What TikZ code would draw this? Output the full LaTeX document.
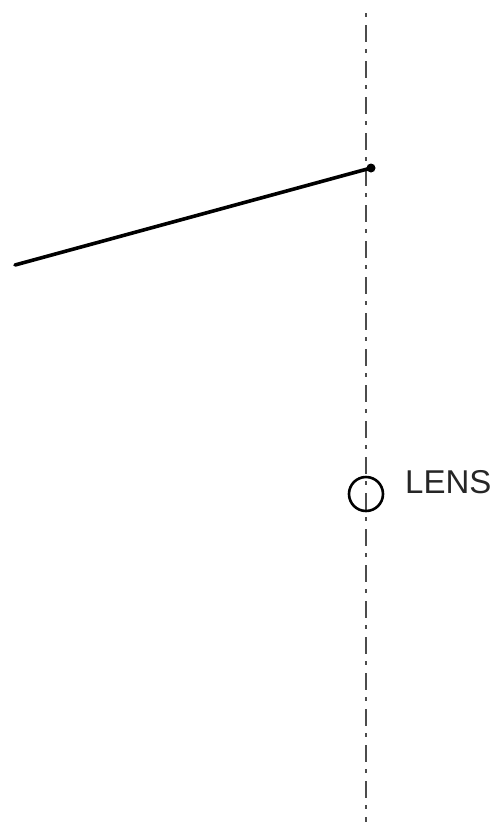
\documentclass[tikz,border=0pt]{standalone}
\usepackage{fontspec}
\setmainfont{Liberation Sans}
\begin{document}
\begin{tikzpicture}[x=1pt,y=-1pt,
  axisline/.style={line width=1.9pt,black!70,dash pattern=on 4pt off 8pt on 17pt off 7pt},
  rayline/.style={line width=3.6pt,black,line cap=round},
  lensmark/.style={circle,draw,line width=2.6pt,minimum size=34pt,inner sep=0pt},
  enddot/.style={circle,fill,inner sep=0pt,minimum size=9pt},
  labeltext/.style={font=\fontsize{33}{33}\selectfont,text=black!85,inner sep=0pt,anchor=west}]
\useasboundingbox (0,0) rectangle (499,830);
\coordinate (atop) at (366,13);
\coordinate (abot) at (366,822);
\draw[axisline] (atop) -- (abot);
\node[lensmark] (lens) at (366,494) {};
\node[labeltext] (lbl) at (405,482) {LENS};
\coordinate (rstart) at (15,265);
\node[enddot] (rend) at (371,168) {};
\draw[rayline] (rstart) -- (rend.center);
\end{tikzpicture}
\end{document}
